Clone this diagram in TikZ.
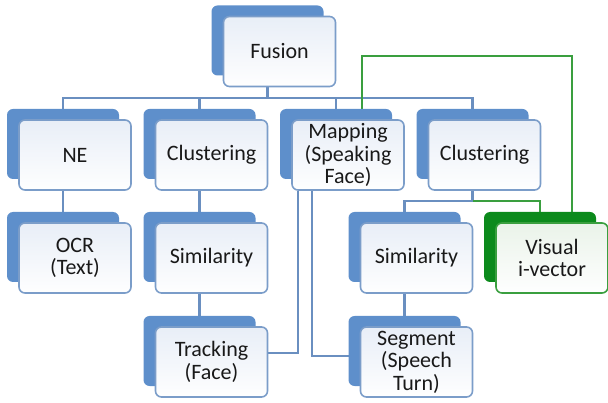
\documentclass[tikz,border=0pt]{standalone}
\usepackage{fontspec}
\setmainfont{Carlito}
\usetikzlibrary{positioning,shadows}
\definecolor{tabblue}{HTML}{5E8FCB}
\definecolor{cardline}{HTML}{7B9DC9}
\definecolor{cardtop}{HTML}{E8EEF7}
\definecolor{linkblue}{HTML}{6A8FC0}
\definecolor{gtab}{HTML}{0C8A1C}
\definecolor{gline}{HTML}{3A9F3F}
\definecolor{gtop}{HTML}{EAF3E9}
\pgfdeclarelayer{bg}
\pgfsetlayers{bg,main}

\begin{document}
\begin{tikzpicture}[x=1pt,y=-1pt,
    card/.style={draw=cardline, line width=1.6pt, rounded corners=6pt,
      top color=cardtop, bottom color=white!97!cardtop,
      general shadow={fill=#1, shadow xshift=-12pt, shadow yshift=11pt},
      minimum width=112pt, minimum height=70pt, text width=106pt,
      align=center, inner sep=1pt, text=black!90,
      font=\fontsize{22}{22.5}\selectfont},
    card/.default=tabblue,
    gcard/.style={card=gtab, draw=gline, top color=gtop},
    link/.style={draw=linkblue, line width=2.2pt},
    glink/.style={draw=gline, line width=2.2pt}]
    \useasboundingbox (0,0) rectangle (608,403);

    % Draw cards
    \foreach \n/\x/\y/\t in {fusion/279.5/51.5/Fusion, ne/75/155/NE,
      clust/211.5/155/Clustering, map/348/155/Mapping\\(Speaking\\Face),
      clustb/484.5/155/Clustering, ocr/75/258/OCR\\(Text),
      sim/211.5/258/Similarity, simb/416.5/258/Similarity,
      track/211.5/362/Tracking\\(Face), seg/416.5/362/Segment\\(Speech\\Turn)}
      \node[card] (\n) at (\x,\y) {\t};
    \node[gcard] (visual) at (552,258) {Visual\\i-vector};

    % Draw connectors behind the cards
    \begin{pgfonlayer}{bg}
      \path ([xshift=-12pt]fusion.south) ++(0,11) coordinate (fbus);
      \draw[link] ([xshift=-12pt]fusion.center) -- (fbus);
      \foreach \n in {ne,clust,map,clustb}
        \draw[link] (fbus) -| ([xshift=-12pt]\n.center);

      \draw[link] ([xshift=-12pt]ne.center) -- ([xshift=-12pt]ocr.center);
      \draw[link] ([xshift=-12pt]clust.center) -- ([xshift=-12pt]track.center);
      \draw[link] ([yshift=9pt]track.east) -| ([xshift=-50pt]map.south);
      \draw[link] ([xshift=-36pt]map.south) |- ([yshift=6pt]seg.center);

      \path ([xshift=-12pt]clustb.south) ++(0,10) coordinate (cbus);
      \draw[link] ([xshift=-12pt]clustb.center) -- (cbus) -| ([xshift=-12pt]simb.center);
      \draw[link] ([xshift=-12pt]simb.center) -- ([xshift=-12pt]seg.center);
      \draw[glink] (cbus) -| ([xshift=-12pt]visual.center);
      \draw[glink] ([xshift=14pt]map.north) -- ++(0,-63) -| ([xshift=20pt]visual.center);
    \end{pgfonlayer}
\end{tikzpicture}
\end{document}
